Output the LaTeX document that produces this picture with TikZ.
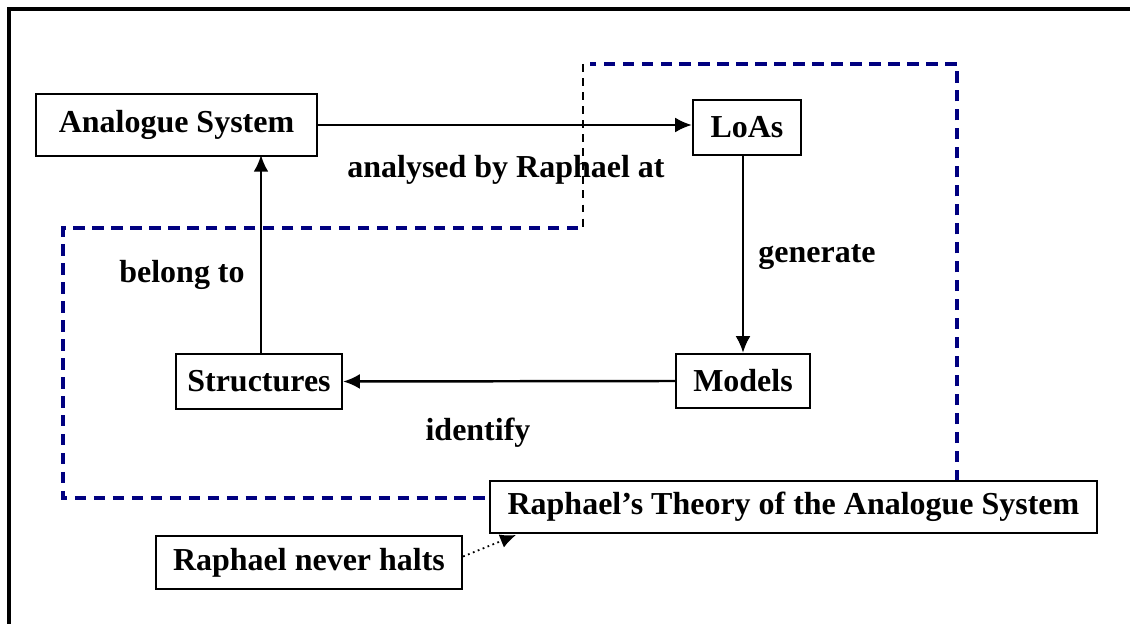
\documentclass[tikz,border=0pt]{standalone}
\usepackage{fontspec}
\setmainfont{Liberation Serif}
\usetikzlibrary{arrows.meta}
\definecolor{navyblue}{RGB}{0,0,128}
\tikzset{
  box/.style={draw, line width=1.3pt, inner sep=0pt, font=\fontsize{18.2}{20}\selectfont\bfseries},
  lbl/.style={font=\fontsize{18.2}{20}\selectfont\bfseries},
  arr/.style={line width=1.4pt, -{Latex[length=9.5pt,width=8.5pt]}},
  area/.style={navyblue, line width=1.8pt, dash pattern=on 6.5pt off 4.3pt},
}
\begin{document}
\begin{tikzpicture}[x=0.02cm, y=-0.02cm]
      \useasboundingbox (0,0) rectangle (1130,624);
      \draw[line width=2pt] (9,624) -- (9,9) -- (1130,9);
      % theory boundary
      \draw[area] (957,481) -- (957,64) -- (590,64);
      \draw[line width=0.7pt, dash pattern=on 4.5pt off 3.5pt] (583,64) -- (583,228);
      \draw[area] (578,228) -- (63,228) -- (63,498) -- (490,498);
      \draw
        (176.5,125) node[box, minimum width=5.62cm, minimum height=1.24cm] (ana){Analogue System}
        (747,127.5) node[box, minimum width=2.16cm, minimum height=1.1cm] (loas){LoAs}
        (743,381) node[box, minimum width=2.68cm, minimum height=1.08cm] (models){Models}
        (259,381.5) node[box, minimum width=3.32cm, minimum height=1.1cm] (struct){Structures}
        (793.5,507) node[box, fill=white, minimum width=12.14cm, minimum height=1.04cm] (theory){Raphael’s Theory of the Analogue System}
        (309,562.5) node[box, minimum width=6.12cm, minimum height=1.06cm] (halts){Raphael never halts};
      \draw
        (506,170) node[lbl] (analysed){analysed by Raphael at}
        (817,257) node[lbl] (generate){generate}
        (182,275) node[lbl] (belong){belong to}
        (478,433) node[lbl] (identify){identify};
      \coordinate (tip) at (516,535);
      \begin{scope}[arr]
        \draw (ana.east) -- (ana.east -| loas.west);
        \draw (models.north |- loas.south) -- (models.north);
        \draw (models.west) -- (struct.east);
        \draw (261,354) -- (261,155);
      \end{scope}
      \draw[line width=1pt, dotted, -{Latex[length=9pt,width=8pt]}] (halts.east) ++(0,-6) -- (tip);
    \end{tikzpicture}
\end{document}
